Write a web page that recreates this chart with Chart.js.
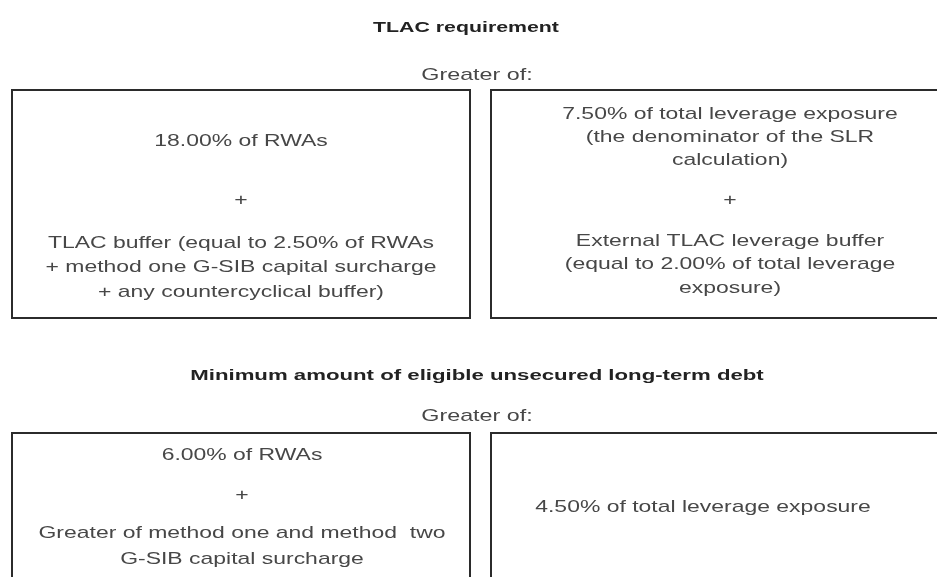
<!DOCTYPE html>
<html>
<head>
<meta charset="utf-8">
<script src="https://cdn.jsdelivr.net/npm/chart.js@4/dist/chart.umd.min.js"></script>
<style>
  html, body { margin: 0; padding: 0; background: #fff; }
  #wrap { width: 937px; height: 577px; position: relative; }
</style>
</head>
<body>
<div id="wrap"><canvas id="diagram"></canvas></div>
<script>
// section titles and text of each box, line by line
const sectionTitles = ["TLAC requirement", "Minimum amount of eligible unsecured long-term debt"];
const greaterOfLabel = "Greater of:";
const tlacRwaLines = [
  ["18.00% of RWAs"],
  ["+"],
  ["TLAC buffer (equal to 2.50% of RWAs", "+ method one G-SIB capital surcharge", "+ any countercyclical buffer)"]
];
const tlacLeverageLines = [
  ["7.50% of total leverage exposure", "(the denominator of the SLR", "calculation)"],
  ["+"],
  ["External TLAC leverage buffer", "(equal to 2.00% of total leverage", "exposure)"]
];
const ltdRwaLines = [
  ["6.00% of RWAs"],
  ["+"],
  ["Greater of method one and method  two", "G-SIB capital surcharge"]
];
const ltdLeverageLines = [
  ["4.50% of total leverage exposure"]
];

const FONT = "'Liberation Sans', Arial, sans-serif";
const TEXT = "#474747";
const STRETCH = 1.35;   // source text is wide, so stretch it sideways

// boxes in diagram units (the scales map 0..937 x 0..577)
const boxes = [
  { x0: 12, x1: 470, y0: 90, y1: 318, cx: 241, groups: tlacRwaLines, ys: [[141], [200], [243, 267, 292]] },
  { x0: 491, x1: 945, y0: 90, y1: 318, cx: 730, groups: tlacLeverageLines, ys: [[114, 137, 160], [200], [241, 264, 288]] },
  { x0: 12, x1: 470, y0: 433, y1: 600, cx: 242, groups: ltdRwaLines, ys: [[455], [495], [533, 559]] },
  { x0: 491, x1: 945, y0: 433, y1: 600, cx: 703, groups: ltdLeverageLines, ys: [[507]] }
];

function stretchedText(ctx, text, px, py, sx) {
  ctx.save();
  ctx.translate(px, py);
  ctx.scale(sx, 1);
  ctx.fillText(text, 0, 0);
  ctx.restore();
}

const diagramPlugin = {
  id: 'diagram',
  afterDraw(chart) {
    const { ctx, scales: { x, y } } = chart;
    ctx.save();
    ctx.textAlign = 'center';
    ctx.textBaseline = 'middle';

    // headings
    ctx.fillStyle = '#222';
    ctx.font = `bold 15px ${FONT}`;
    stretchedText(ctx, sectionTitles[0], x.getPixelForValue(466), y.getPixelForValue(28), 1.42);
    stretchedText(ctx, sectionTitles[1], x.getPixelForValue(477), y.getPixelForValue(376), 1.48);
    ctx.fillStyle = TEXT;
    ctx.font = `17px ${FONT}`;
    stretchedText(ctx, greaterOfLabel, x.getPixelForValue(477), y.getPixelForValue(75), 1.37);
    stretchedText(ctx, greaterOfLabel, x.getPixelForValue(477), y.getPixelForValue(416), 1.37);

    boxes.forEach(b => {
      const left = x.getPixelForValue(b.x0), right = x.getPixelForValue(b.x1);
      const top = y.getPixelForValue(b.y0), bottom = y.getPixelForValue(b.y1);
      ctx.strokeStyle = '#2b2b2b';
      ctx.lineWidth = 2;
      ctx.strokeRect(left, top, right - left, bottom - top);
      ctx.fillStyle = TEXT;
      ctx.font = `17px ${FONT}`;
      b.groups.forEach((lines, gi) => {
        lines.forEach((line, li) => {
          stretchedText(ctx, line, x.getPixelForValue(b.cx), y.getPixelForValue(b.ys[gi][li]), STRETCH);
        });
      });
    });
    ctx.restore();
  }
};

new Chart(document.getElementById('diagram'), {
  type: 'scatter',
  data: { datasets: [{ data: [], pointRadius: 0 }] },
  options: {
    responsive: true,
    maintainAspectRatio: false,
    animation: false,
    layout: { padding: 0 },
    plugins: { legend: { display: false }, tooltip: { enabled: false } },
    scales: {
      x: { type: 'linear', min: 0, max: 937, display: false },
      y: { type: 'linear', min: 0, max: 577, reverse: true, display: false }
    }
  },
  plugins: [diagramPlugin]
});
</script>
</body>
</html>
